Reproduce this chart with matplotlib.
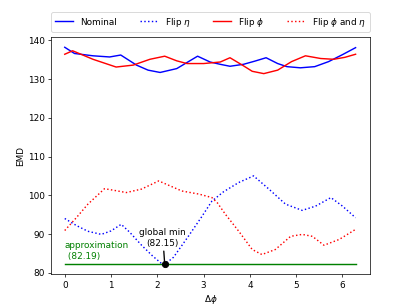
import numpy as np
import matplotlib
matplotlib.use("Agg")
import matplotlib.pyplot as plt

# Nominal
x_nom = [0, 0.21, 0.61, 0.97, 1.21, 1.55, 1.8, 2.06, 2.42, 2.87, 3.14, 3.36, 3.57,
         3.86, 4.1, 4.35, 4.6, 4.8, 5.09, 5.4, 5.7, 6.0, 6.283]
y_nom = [138.2, 136.6, 136.0, 135.7, 136.2, 133.6, 132.3, 131.7, 132.7, 135.9, 134.4,
         133.8, 133.3, 133.8, 134.6, 135.5, 134.0, 133.2, 132.9, 133.2, 134.5, 136.3, 138.1]

# Flip eta
x_eta = [0, 0.25, 0.5, 0.79, 1.0, 1.22, 1.4, 1.66, 1.9, 2.08, 2.16, 2.35, 2.67, 2.95, 3.18,
         3.43, 3.76, 4.08, 4.41, 4.77, 5.13, 5.42, 5.75, 6.0, 6.283]
y_eta = [94.0, 92.2, 90.7, 89.9, 90.8, 92.5, 90.5, 87.1, 84.3, 82.5, 82.15, 84.0, 89.4, 94.3,
         98.5, 100.9, 103.3, 105.0, 101.6, 97.7, 96.1, 97.2, 99.4, 97.2, 94.2]

# Flip phi
x_phi = [0, 0.17, 0.61, 1.11, 1.48, 1.84, 2.16, 2.42, 2.64, 3.0, 3.36, 3.57, 3.85, 4.05,
         4.3, 4.6, 4.9, 5.2, 5.53, 5.81, 6.05, 6.283]
y_phi = [136.4, 137.3, 135.1, 133.1, 133.6, 135.1, 135.9, 134.7, 134.0, 134.0, 134.4,
         135.5, 133.5, 132.0, 131.4, 132.3, 134.5, 136.0, 135.3, 135.1, 135.6, 136.4]

# Flip phi and eta
x_both = [0, 0.25, 0.5, 0.86, 1.1, 1.33, 1.66, 2.03, 2.3, 2.53, 2.9, 3.18, 3.3, 3.47, 3.76,
          4.05, 4.26, 4.55, 4.88, 5.13, 5.35, 5.6, 5.93, 6.283]
y_both = [90.9, 94.2, 97.7, 101.7, 101.2, 100.7, 101.6, 103.7, 102.3, 101.1, 100.3, 99.4,
          98.0, 95.1, 90.7, 86.0, 84.7, 86.0, 89.4, 89.9, 89.4, 87.1, 88.6, 91.2]

approx_value = 82.19
min_x = 2.16
min_value = 82.15
x_range = [0, 6.283]

fig = plt.figure(figsize=(6.4, 4.8), dpi=64.2)
ax = fig.add_subplot(111)

ax.plot(x_nom, y_nom, color="blue", linestyle="-", lw=1.6, label="Nominal")
ax.plot(x_eta, y_eta, color="blue", linestyle=":", lw=1.6, label=r"Flip $\eta$")
ax.plot(x_phi, y_phi, color="red", linestyle="-", lw=1.6, label=r"Flip $\phi$")
ax.plot(x_both, y_both, color="red", linestyle=":", lw=1.6, label=r"Flip $\phi$ and $\eta$")

ax.plot(x_range, [approx_value, approx_value], color="green", lw=1.6)
ax.text(0.0, approx_value + 1.0, "approximation\n (82.19)", color="green",
        ha="left", va="bottom", fontsize=10)

ax.plot([min_x], [min_value], "o", color="black", ms=7)
ax.annotate("global min\n(82.15)", xy=(min_x, min_value), xytext=(2.12, 86.5),
            ha="center", va="bottom", fontsize=10,
            arrowprops=dict(arrowstyle="-", color="black", lw=1.5))

ax.set_xlim(-0.289, 6.59)
ax.set_ylim(79.65, 140.9)
ax.set_xlabel(r"$\Delta\phi$")
ax.set_ylabel("EMD")

ax.legend(bbox_to_anchor=(0., 1.02, 1., .102), loc="lower left", ncol=4,
          mode="expand", borderaxespad=0.)

fig.savefig("out.png", dpi=64.2)
